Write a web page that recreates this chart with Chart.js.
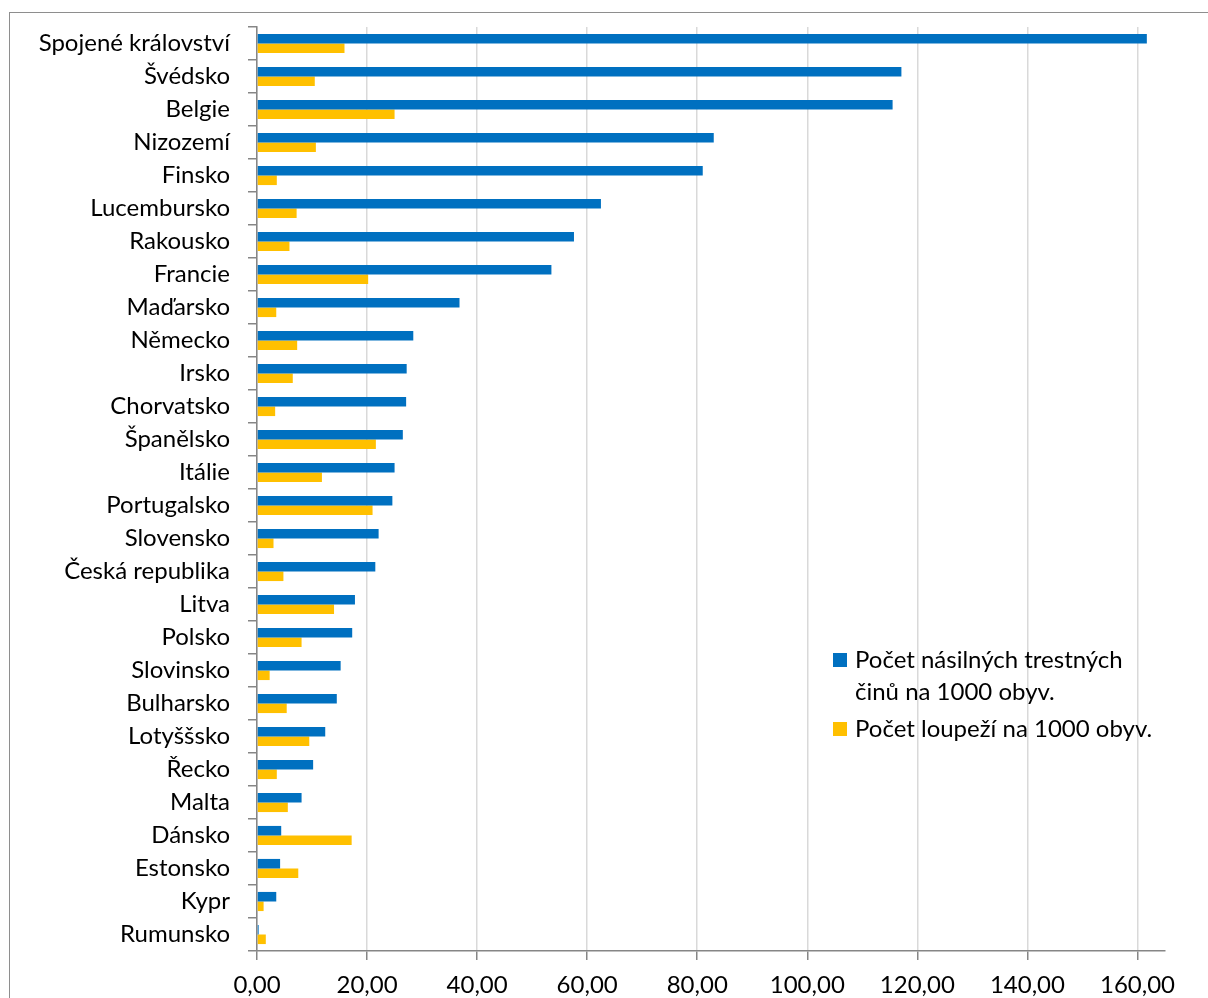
<!DOCTYPE html>
<html>
<head>
<meta charset="utf-8">
<script src="https://cdn.jsdelivr.net/npm/chart.js@4/dist/chart.umd.min.js"></script>
<style>
    html, body { margin: 0; padding: 0; background: #fff; overflow: hidden; }
    #wrap { position: relative; width: 1208px; height: 998px; }
    #frame { position: absolute; left: 9px; top: 12px; width: 1300px; height: 1100px; border: 1.5px solid #8e8e8e; }
    #chart { position: absolute; left: 0; top: 0; }
</style>
</head>
<body>
<div id="wrap">
    <div id="frame"></div>
    <canvas id="chart" width="1208" height="998"></canvas>
</div>
<script>
const countries = [
    'Spojené království', 'Švédsko', 'Belgie', 'Nizozemí', 'Finsko', 'Lucembursko', 'Rakousko',
    'Francie', 'Maďarsko', 'Německo', 'Irsko', 'Chorvatsko', 'Španělsko', 'Itálie', 'Portugalsko',
    'Slovensko', 'Česká republika', 'Litva', 'Polsko', 'Slovinsko', 'Bulharsko', 'Lotyššsko',
    'Řecko', 'Malta', 'Dánsko', 'Estonsko', 'Kypr', 'Rumunsko'
];

const violentCrimes = [
    161.7, 117.1, 115.5, 83.0, 81.0, 62.5, 57.6,
    53.5, 36.8, 28.4, 27.2, 27.1, 26.5, 25.0, 24.6,
    22.1, 21.5, 17.8, 17.3, 15.2, 14.5, 12.4,
    10.2, 8.1, 4.4, 4.2, 3.5, 0.3
];

const robberies = [
    15.9, 10.5, 25.0, 10.7, 3.6, 7.2, 5.9,
    20.2, 3.5, 7.3, 6.5, 3.3, 21.6, 11.8, 21.0,
    3.0, 4.8, 14.0, 8.1, 2.3, 5.4, 9.5,
    3.6, 5.6, 17.2, 7.5, 1.2, 1.6
];

const seriesLabels = ['Počet násilných trestných činů na 1000 obyv.', 'Počet loupeží na 1000 obyv.'];
const seriesColors = ['#0070C0', '#FFC000'];

const FONT = 'Lato, "Open Sans", sans-serif';

// legend drawn inside the plot area, with wrapped text
const sideLegend = {
    id: 'sideLegend',
    afterDraw(chart) {
        const ctx = chart.ctx;
        const area = chart.chartArea;
        const x = area.right - 332;
        let y = area.top + 633;
        const maxWidth = 302;
        ctx.save();
        ctx.font = '24px ' + FONT;
        ctx.textBaseline = 'middle';
        chart.data.datasets.forEach(ds => {
            const words = ds.label.split(' ');
            const lines = [];
            let line = '';
            words.forEach(w => {
                const test = line ? line + ' ' + w : w;
                if (ctx.measureText(test).width > maxWidth && line) {
                    lines.push(line);
                    line = w;
                } else {
                    line = test;
                }
            });
            lines.push(line);
            ctx.fillStyle = ds.backgroundColor;
            ctx.fillRect(x, y - 7, 14, 14);
            ctx.fillStyle = '#000';
            lines.forEach((l, j) => {
                ctx.fillText(l, x + 22, y + j * 32);
            });
            y += lines.length * 32 + 5;
        });
        ctx.restore();
    }
};

const ctx = document.getElementById('chart').getContext('2d');
new Chart(ctx, {
    type: 'bar',
    data: {
        labels: countries,
        datasets: [
            {
                label: seriesLabels[0],
                data: violentCrimes,
                backgroundColor: seriesColors[0],
                barPercentage: 1,
                categoryPercentage: 0.58
            },
            {
                label: seriesLabels[1],
                data: robberies,
                backgroundColor: seriesColors[1],
                barPercentage: 1,
                categoryPercentage: 0.58
            }
        ]
    },
    options: {
        indexAxis: 'y',
        responsive: false,
        animation: false,
        devicePixelRatio: 1,
        layout: {
            padding: { top: 27, right: 43, left: 0, bottom: 0 }
        },
        plugins: {
            legend: { display: false },
            tooltip: { enabled: false }
        },
        scales: {
            x: {
                min: 0,
                max: 165,
                afterBuildTicks: axis => {
                    axis.ticks = [0, 20, 40, 60, 80, 100, 120, 140, 160].map(v => ({ value: v }));
                },
                afterFit: axis => {
                    axis.height = 47;
                    axis.paddingLeft = 0;
                    axis.paddingRight = 0;
                },
                grid: {
                    color: '#d9d9d9',
                    lineWidth: 1.5,
                    tickColor: '#868686',
                    tickLength: 9
                },
                border: { color: '#868686', width: 1.5 },
                ticks: {
                    padding: 11,
                    color: '#000',
                    font: { family: FONT, size: 24 },
                    callback: v => v.toFixed(2).replace('.', ',')
                }
            },
            y: {
                afterFit: axis => {
                    axis.width = 257;
                    axis.paddingTop = 0;
                    axis.paddingBottom = 0;
                },
                grid: {
                    offset: true,
                    drawOnChartArea: false,
                    tickColor: '#868686',
                    tickLength: 9,
                    lineWidth: 1.5
                },
                border: { color: '#868686', width: 1.5 },
                ticks: {
                    padding: 18,
                    color: '#000',
                    font: { family: FONT, size: 24 },
                    autoSkip: false
                }
            }
        }
    },
    plugins: [sideLegend]
});
</script>
</body>
</html>
